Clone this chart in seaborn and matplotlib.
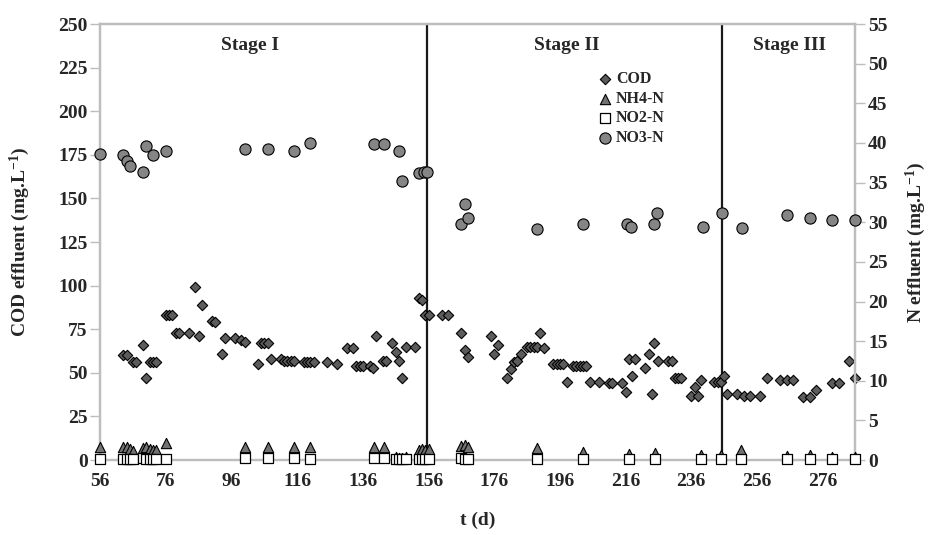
import matplotlib
matplotlib.use("Agg")
import numpy as np
import pandas as pd
import matplotlib.pyplot as plt
import matplotlib.transforms as mtransforms
import seaborn as sns

# ---- data ----
cod_t = [63, 64, 66, 67, 69, 70, 71, 72, 73, 76, 77, 78, 79, 80, 83, 85, 86, 87, 90, 91,
         93, 94, 97, 99, 100, 104, 105, 106, 107, 108, 111, 112, 113, 114, 115, 118, 119, 120, 121, 125,
         128, 131, 133, 134, 135, 136, 138, 139, 140, 142, 143, 145, 146, 147, 148, 149, 152, 153, 154, 155,
         156, 160, 162, 166, 167, 168, 175, 176, 177, 180, 181, 182, 183, 184, 186, 187, 188, 189, 190, 191,
         194, 195, 196, 197, 198, 200, 201, 202, 203, 204, 205, 208, 211, 212, 215, 216, 217, 218, 219, 222,
         223, 224, 224.5, 226, 229, 230, 231, 232, 233, 236, 237, 238, 239, 243, 244, 245, 246, 247, 250, 252,
         254, 257, 259, 263, 265, 267, 270, 272, 274, 279, 281, 284, 286]
cod = [60, 60, 56, 56, 66, 47, 56, 56, 56, 83, 83, 83, 73, 73, 73, 99, 71, 89, 80, 79,
       61, 70, 70, 69, 68, 55, 67, 67, 67, 58, 58, 57, 57, 57, 57, 56, 56, 56, 56, 56,
       55, 64, 64, 54, 54, 54, 54, 53, 71, 57, 57, 67, 62, 57, 47, 65, 65, 93, 92, 83,
       83, 83, 83, 73, 63, 59, 71, 61, 66, 47, 52, 56, 57, 61, 65, 65, 65, 65, 73, 64,
       55, 55, 55, 55, 45, 54, 54, 54, 54, 54, 45, 45, 44, 44, 44, 39, 58, 48, 58, 53,
       61, 38, 67, 57, 57, 57, 47, 47, 47, 37, 42, 37, 46, 45, 45, 45, 48, 38, 38, 37,
       37, 37, 47, 46, 46, 46, 36, 36, 40, 44, 44, 57, 47]

nh4_t = [56, 63, 64, 65, 66, 69, 70, 71, 72, 73, 76, 100, 107, 115, 120, 139.5, 142.5,
         146, 147, 148, 149, 153, 154, 155, 156, 166, 167, 168, 189, 203, 217, 225,
         239, 245, 251, 265, 272, 279, 286]
nh4 = [1.7, 1.6, 1.6, 1.4, 1.2, 1.5, 1.6, 1.4, 1.3, 1.3, 2.1, 1.7, 1.7, 1.7, 1.7, 1.7, 1.7,
       0.4, 0.3, 0.3, 0.4, 1.3, 1.4, 1.3, 1.4, 1.8, 1.9, 1.7, 1.5, 1.0, 0.8, 0.9,
       0.6, 0.6, 1.3, 0.5, 0.6, 0.4, 0.4]

no2_t = [56, 63, 64, 65, 66, 69, 70, 71, 72, 73, 76, 100, 107, 115, 120, 139.5, 142.5,
         146, 147, 148, 149, 153, 154, 155, 156, 166, 167, 168, 189, 203, 217, 225,
         239, 245, 251, 265, 272, 279, 286]
no2 = [0.2, 0.2, 0.2, 0.2, 0.2, 0.3, 0.2, 0.2, 0.2, 0.2, 0.2, 0.3, 0.3, 0.3, 0.2, 0.3, 0.3,
       0.1, 0.1, 0.1, 0.1, 0.2, 0.2, 0.2, 0.2, 0.3, 0.2, 0.2, 0.2, 0.2, 0.2, 0.2,
       0.2, 0.2, 0.2, 0.2, 0.2, 0.2, 0.2]

no3_t = [56, 63, 64, 65, 69, 70, 72, 76, 100, 107, 115, 120, 139.5, 142.5, 147, 148,
         153, 154.5, 155.5, 166, 167, 168, 189, 203, 216.5, 217.5, 224.5, 225.5,
         239.5, 245.5, 251.5, 265, 272, 279, 286]
no3 = [38.6, 38.5, 37.7, 37.1, 36.4, 39.6, 38.5, 39.0, 39.2, 39.2, 39.0, 40.0, 39.9, 39.9, 39.0, 35.2,
       36.2, 36.3, 36.4, 29.8, 32.3, 30.6, 29.2, 29.8, 29.8, 29.4, 29.8, 31.2,
       29.4, 31.2, 29.3, 30.9, 30.6, 30.3, 30.3]

stage_names = ["Stage I", "Stage II", "Stage III"]
stage_pos = [101.5, 198, 266]
stage_bounds = [155.6, 245.3]

sns.set_style("white")
plt.rcParams["font.family"] = ["Liberation Serif", "DejaVu Sans"]
plt.rcParams["font.weight"] = "bold"
plt.rcParams["axes.labelweight"] = "bold"
plt.rcParams["mathtext.fontset"] = "custom"
plt.rcParams["mathtext.rm"] = "Liberation Serif:bold"
plt.rcParams["mathtext.bf"] = "Liberation Serif:bold"
plt.rcParams["mathtext.default"] = "bf"

fig = plt.figure(figsize=(9.37, 5.35), dpi=100)
ax = fig.add_axes([0.107, 0.140, 0.806, 0.815])
ax2 = ax.twinx()

df_cod = pd.DataFrame({"t": cod_t, "v": cod})
df_nh4 = pd.DataFrame({"t": nh4_t, "v": nh4})
df_no2 = pd.DataFrame({"t": no2_t, "v": no2})
df_no3 = pd.DataFrame({"t": no3_t, "v": no3})

for xb in stage_bounds:
    ax.axvline(xb, color="#1a1a1a", lw=1.6, zorder=1)

sns.scatterplot(data=df_cod, x="t", y="v", ax=ax, marker="D", s=28, color="#5c5c5c",
                edgecolor="black", linewidth=0.8, label="COD", clip_on=False, zorder=3)
sns.scatterplot(data=df_nh4, x="t", y="v", ax=ax2, marker="^", s=55, color="#727272",
                edgecolor="black", linewidth=0.8, label="NH4-N", clip_on=False, zorder=3)
sns.scatterplot(data=df_no2, x="t", y="v", ax=ax2, marker="s", s=48, color="white",
                edgecolor="black", linewidth=0.9, label="NO2-N", clip_on=False, zorder=3)
sns.scatterplot(data=df_no3, x="t", y="v", ax=ax2, marker="o", s=65, color="#858585",
                edgecolor="black", linewidth=0.8, label="NO3-N", clip_on=False, zorder=3)

ax.set_xlim(56, 286)
ax.set_ylim(0, 250)
ax2.set_ylim(0, 55)
ax.set_xticks(np.arange(56, 277, 20))
ax.set_yticks(np.arange(0, 251, 25))
ax2.set_yticks(np.arange(0, 56, 5))

ax.set_xlabel("t (d)", fontsize=14, fontweight="bold")
ax.set_ylabel(r"COD effluent (mg.L$^{-1}$)", fontsize=14, fontweight="bold")
ax2.set_ylabel(r"N effluent (mg.L$^{-1}$)", fontsize=14, fontweight="bold")
ax.xaxis.set_label_coords(0.5, -0.118)
ax.yaxis.set_label_coords(-0.09, 0.5)
ax2.yaxis.set_label_coords(1.064, 0.5)

for a in (ax, ax2):
    for sp in a.spines.values():
        sp.set_color("#bdbdbd")
        sp.set_linewidth(1.6)
    a.tick_params(direction="out", length=7, width=1, color="#bdbdbd",
                  labelsize=14, pad=2)
    for lab in a.get_xticklabels() + a.get_yticklabels():
        lab.set_fontweight("bold")

trans = mtransforms.blended_transform_factory(ax.transData, ax.transAxes)
for name, xp in zip(stage_names, stage_pos):
    ax.text(xp, 0.95, name, transform=trans, ha="center", va="center",
            fontsize=14, fontweight="bold")

h1, l1 = ax.get_legend_handles_labels()
h2, l2 = ax2.get_legend_handles_labels()
if ax.get_legend() is not None:
    ax.get_legend().remove()
leg = ax2.legend(h1 + h2, l1 + l2, loc="upper left", bbox_to_anchor=(0.645, 0.91),
                 frameon=False, handletextpad=0.1, labelspacing=0.22, borderpad=0,
                 handlelength=1.2, prop={"family": "Liberation Serif", "weight": "bold", "size": 11.5})

fig.savefig("out.png", dpi=100)
